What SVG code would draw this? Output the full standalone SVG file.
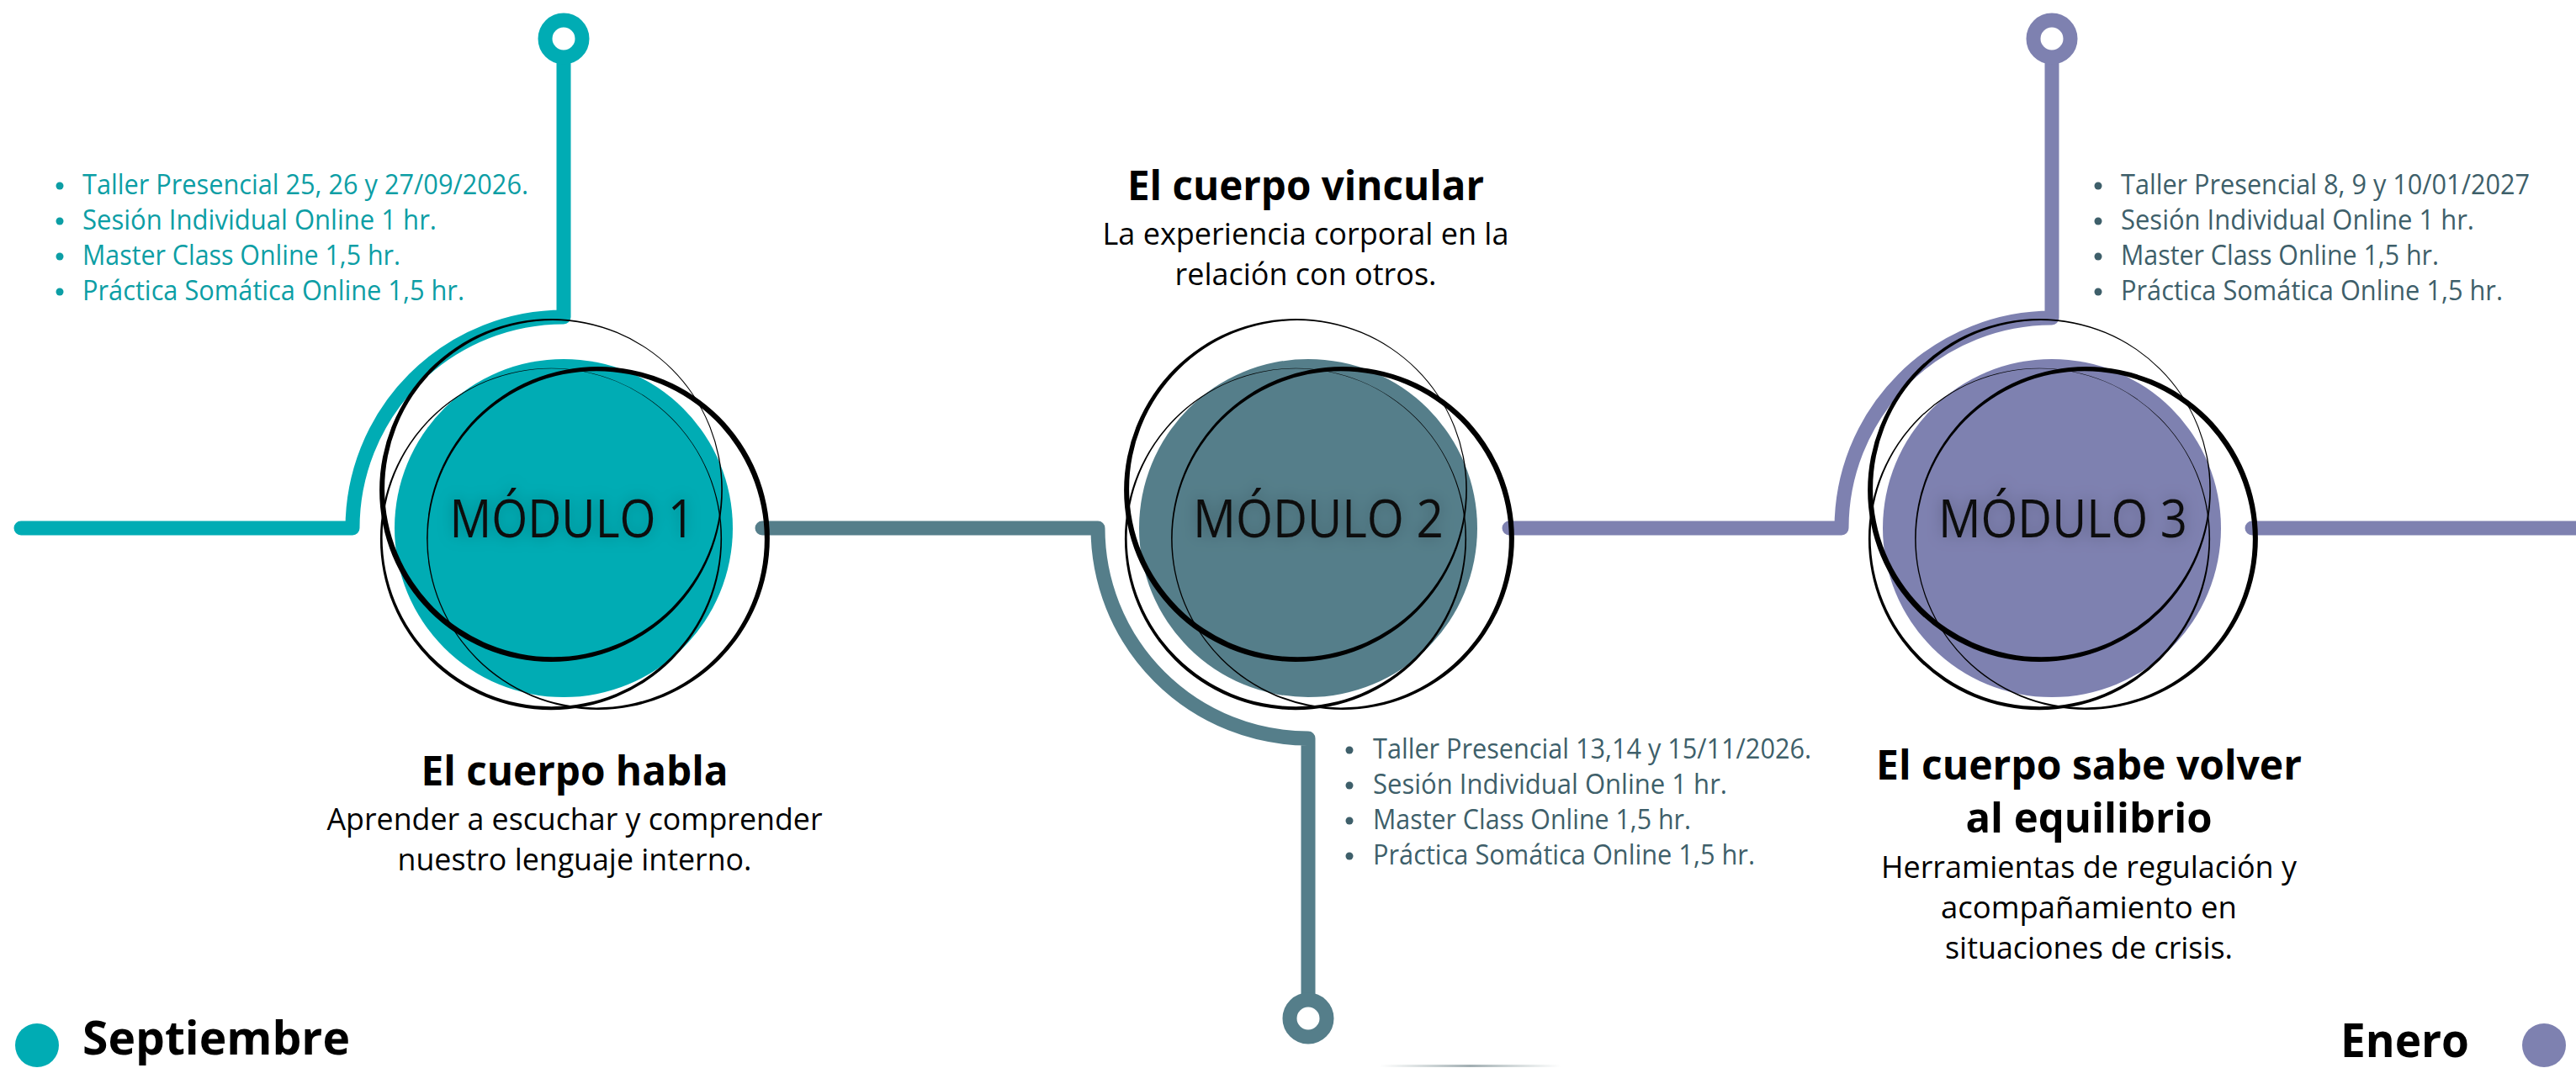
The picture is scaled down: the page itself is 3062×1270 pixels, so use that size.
<svg xmlns="http://www.w3.org/2000/svg" xmlns:xlink="http://www.w3.org/1999/xlink" width="3062" height="1270" viewBox="0 0 3062 1270">
<style>
text{font-family:"Open Sans","Noto Sans",sans-serif}
.ln{fill:none;stroke-width:17;stroke-linecap:round;stroke-linejoin:round}
.teal{stroke:#00ACB4}.slate{stroke:#557E8A}.purp{stroke:#7E81B0}
.pin{fill:none;stroke-width:17}
.b1{fill:#0C9EA5;font-size:32px}
.b2{fill:#3E5F6A;font-size:32px}
.d1{fill:#0C9EA5}.d2{fill:#3E5F6A}
.title{font-weight:700;font-size:48px;fill:#000;text-anchor:middle}
.sub{font-size:36px;fill:#000;text-anchor:middle}
.mod{font-size:62px;fill:#111;text-anchor:middle}
.month{font-weight:700;font-size:55px;fill:#000}
</style>
<defs>
<filter id="glow" x="-20%" y="-40%" width="140%" height="180%">
<feGaussianBlur in="SourceAlpha" stdDeviation="9" result="b"/>
<feFlood flood-color="#000" flood-opacity="0.28"/>
<feComposite in2="b" operator="in" result="s"/>
<feMerge><feMergeNode in="s"/><feMergeNode in="SourceGraphic"/></feMerge>
</filter>
<linearGradient id="fade" x1="0" x2="1" y1="0" y2="0">
<stop offset="0" stop-color="#9aa" stop-opacity="0"/>
<stop offset="0.5" stop-color="#8a9a9f" stop-opacity="0.8"/>
<stop offset="1" stop-color="#9aa" stop-opacity="0"/>
</linearGradient>
<g id="rings" fill="#000" fill-rule="evenodd">
<path d="M -218.9 -45 A 203.9 203.9 0 1 0 188.9 -45 A 203.9 203.9 0 1 0 -218.9 -45 Z M -212.9 -46.8 A 200.1 200.1 0 1 0 187.3 -46.8 A 200.1 200.1 0 1 0 -212.9 -46.8 Z"/>
<path d="M -162.9 12 A 203.9 203.9 0 1 0 244.9 12 A 203.9 203.9 0 1 0 -162.9 12 Z M -161.36 13.3 A 200.1 200.1 0 1 0 238.84 13.3 A 200.1 200.1 0 1 0 -161.36 13.3 Z"/>
<path d="M -218.1 13 A 203.1 203.1 0 1 0 188.1 13 A 203.1 203.1 0 1 0 -218.1 13 Z M -215.39 11.24 A 200.95 200.95 0 1 0 186.51 11.24 A 200.95 200.95 0 1 0 -215.39 11.24 Z"/>
</g>
</defs>
<rect width="3062" height="1270" fill="#fff"/>

<g id="connectors">
<path class="ln teal" d="M 25 628 H 419 A 251 251 0 0 1 670 377 V 76"/>
<circle class="pin teal" cx="670" cy="46" r="22"/>
<path class="ln slate" d="M 906 628 H 1305 A 250 250 0 0 0 1555 878 V 1182"/>
<circle class="pin slate" cx="1555" cy="1211" r="22"/>
<path class="ln purp" d="M 1794 628 H 2189 A 250 250 0 0 1 2439 378 V 76"/>
<circle class="pin purp" cx="2439" cy="46" r="22"/>
<path class="ln purp" d="M 2677 628 H 3070"/>
</g>

<g id="modulo1">
<circle cx="670" cy="628" r="201" fill="#00ACB4"/>
<use xlink:href="#rings" href="#rings" transform="translate(670 628)"/>
<text class="mod" x="680" y="639" filter="url(#glow)" textLength="291" lengthAdjust="spacingAndGlyphs">MÓDULO 1</text>
</g>
<g id="modulo2">
<circle cx="1555" cy="628" r="201" fill="#557E8A"/>
<use xlink:href="#rings" href="#rings" transform="translate(1555 628)"/>
<text class="mod" x="1567" y="639" filter="url(#glow)" textLength="298" lengthAdjust="spacingAndGlyphs">MÓDULO 2</text>
</g>
<g id="modulo3">
<circle cx="2439" cy="628" r="201" fill="#7E81B0"/>
<use xlink:href="#rings" href="#rings" transform="translate(2439 628)"/>
<text class="mod" x="2452" y="639" filter="url(#glow)" textLength="296" lengthAdjust="spacingAndGlyphs">MÓDULO 3</text>
</g>

<g id="info1">
<circle class="d1" cx="71" cy="221" r="4.5"/><circle class="d1" cx="71" cy="263" r="4.5"/><circle class="d1" cx="71" cy="305" r="4.5"/><circle class="d1" cx="71" cy="347" r="4.5"/>
<text class="b1" x="98" y="231" textLength="530" lengthAdjust="spacingAndGlyphs">Taller Presencial 25, 26 y 27/09/2026.</text>
<text class="b1" x="98" y="273" textLength="421" lengthAdjust="spacingAndGlyphs">Sesión Individual Online 1 hr.</text>
<text class="b1" x="98" y="315" textLength="378" lengthAdjust="spacingAndGlyphs">Master Class Online 1,5 hr.</text>
<text class="b1" x="98" y="357" textLength="454" lengthAdjust="spacingAndGlyphs">Práctica Somática Online 1,5 hr.</text>
</g>
<g id="desc1">
<text class="title" x="683" y="934" textLength="365" lengthAdjust="spacingAndGlyphs">El cuerpo habla</text>
<text class="sub" x="683" y="987" textLength="589" lengthAdjust="spacingAndGlyphs">Aprender a escuchar y comprender</text>
<text class="sub" x="683" y="1035" textLength="421" lengthAdjust="spacingAndGlyphs">nuestro lenguaje interno.</text>
</g>

<g id="desc2">
<text class="title" x="1552" y="238" textLength="424" lengthAdjust="spacingAndGlyphs">El cuerpo vincular</text>
<text class="sub" x="1552" y="291" textLength="483" lengthAdjust="spacingAndGlyphs">La experiencia corporal en la</text>
<text class="sub" x="1552" y="339" textLength="311" lengthAdjust="spacingAndGlyphs">relación con otros.</text>
</g>
<g id="info2">
<circle class="d2" cx="1604" cy="892" r="4.5"/><circle class="d2" cx="1604" cy="934" r="4.5"/><circle class="d2" cx="1604" cy="976" r="4.5"/><circle class="d2" cx="1604" cy="1018" r="4.5"/>
<text class="b2" x="1632" y="902" textLength="521" lengthAdjust="spacingAndGlyphs">Taller Presencial 13,14 y 15/11/2026.</text>
<text class="b2" x="1632" y="944" textLength="421" lengthAdjust="spacingAndGlyphs">Sesión Individual Online 1 hr.</text>
<text class="b2" x="1632" y="986" textLength="378" lengthAdjust="spacingAndGlyphs">Master Class Online 1,5 hr.</text>
<text class="b2" x="1632" y="1028" textLength="454" lengthAdjust="spacingAndGlyphs">Práctica Somática Online 1,5 hr.</text>
</g>

<g id="info3">
<circle class="d2" cx="2494" cy="221" r="4.5"/><circle class="d2" cx="2494" cy="263" r="4.5"/><circle class="d2" cx="2494" cy="305" r="4.5"/><circle class="d2" cx="2494" cy="347" r="4.5"/>
<text class="b2" x="2521" y="231" textLength="486" lengthAdjust="spacingAndGlyphs">Taller Presencial 8, 9 y 10/01/2027</text>
<text class="b2" x="2521" y="273" textLength="420" lengthAdjust="spacingAndGlyphs">Sesión Individual Online 1 hr.</text>
<text class="b2" x="2521" y="315" textLength="378" lengthAdjust="spacingAndGlyphs">Master Class Online 1,5 hr.</text>
<text class="b2" x="2521" y="357" textLength="454" lengthAdjust="spacingAndGlyphs">Práctica Somática Online 1,5 hr.</text>
</g>
<g id="desc3">
<text class="title" x="2483" y="927" textLength="506" lengthAdjust="spacingAndGlyphs">El cuerpo sabe volver</text>
<text class="title" x="2483" y="990" textLength="293" lengthAdjust="spacingAndGlyphs">al equilibrio</text>
<text class="sub" x="2483" y="1044" textLength="494" lengthAdjust="spacingAndGlyphs">Herramientas de regulación y</text>
<text class="sub" x="2483" y="1092" textLength="352" lengthAdjust="spacingAndGlyphs">acompañamiento en</text>
<text class="sub" x="2483" y="1140" textLength="342" lengthAdjust="spacingAndGlyphs">situaciones de crisis.</text>
</g>

<g id="inicio">
<circle cx="44" cy="1243" r="26" fill="#00ACB4"/>
<text class="month" x="98" y="1254" textLength="318" lengthAdjust="spacingAndGlyphs">Septiembre</text>
</g>
<g id="fin">
<text class="month" x="2782" y="1257" textLength="153" lengthAdjust="spacingAndGlyphs">Enero</text>
<circle cx="3024" cy="1243" r="26" fill="#7E81B0"/>
</g>
<rect x="1640" y="1266" width="215" height="3" fill="url(#fade)"/>
</svg>
